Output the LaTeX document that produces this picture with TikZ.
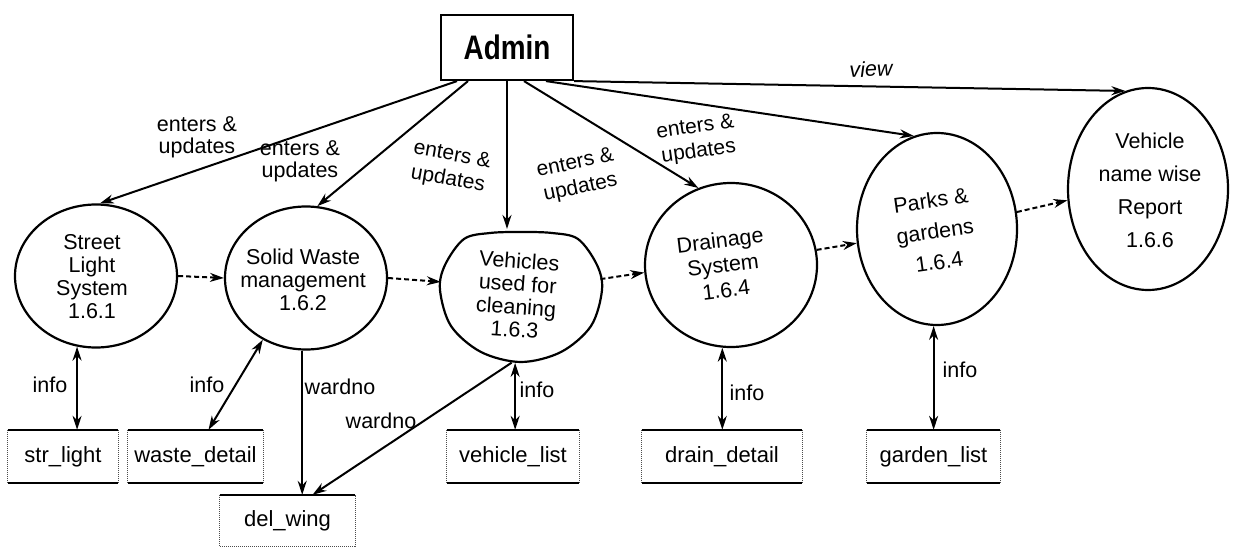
\documentclass[tikz,border=0pt]{standalone}
\usepackage{fontspec}
\setmainfont{Liberation Sans}
\usepackage{graphicx}
\usetikzlibrary{arrows.meta,shapes.geometric,calc}
\begin{document}
\begin{tikzpicture}[x=1pt,y=-1pt,
  proc/.style={ellipse, draw, line width=2.2pt, inner sep=0pt},
  ptext/.style={align=center, inner sep=0pt, font=\fontsize{21.5}{23}\selectfont},
  store/.style={rectangle, minimum height=53pt, inner sep=0pt, font=\fontsize{22}{24}\selectfont},
  lbl/.style={align=center, inner sep=0pt, font=\fontsize{21.5}{22}\selectfont},
  rlbl/.style={align=center, inner sep=0pt, font=\fontsize{21}{25}\selectfont},
  flow/.style={line width=2pt, -{Stealth[length=14pt,width=9pt]}},
  dflow/.style={line width=2pt, {Stealth[length=14pt,width=9pt]}-{Stealth[length=14pt,width=9pt]}},
  dashflow/.style={line width=2pt, dash pattern=on 5pt off 3pt, -{Stealth[length=14pt,width=9pt]}},
  storeline/.style={line width=2.5pt},
  sideline/.style={line width=1pt, densely dotted, black!70},
]
\useasboundingbox (0,0) rectangle (1233,548);

% Admin
\node[draw, line width=2.2pt, minimum width=132pt, minimum height=65pt, inner sep=0pt] (adm) at (507,47.5)
  {\fontsize{34}{36}\selectfont\bfseries\scalebox{0.82}[1]{Admin}};

% processes
\node[proc, minimum width=162pt, minimum height=143pt] (sl) at (96,276) {};
\node[ptext] (slt) at (92,277) {Street\\Light\\System\\1.6.1};
\node[proc, minimum width=162pt, minimum height=143pt] (sw) at (306,278) {};
\node[ptext] (swt) at (303,280) {Solid Waste\\management\\1.6.2};
\node[proc, draw=none, minimum width=162pt, minimum height=132pt] (veh) at (521,296) {};
\draw[line width=2.2pt] plot[smooth cycle, tension=0.55] coordinates {(464,239) (490,233) (521,232) (552,233) (578,239) (597,265) (602,290) (591,326) (561,352) (521,362) (481,352) (451,326) (440,290) (445,265)};
\node[ptext, rotate=-4] (veht) at (517,295) {Vehicles\\used for\\cleaning\\1.6.3};
\node[proc, minimum width=172pt, minimum height=164pt] (dr) at (731,265) {};
\node[ptext, rotate=7, font=\fontsize{21.5}{25}\selectfont] (drt) at (723,265) {Drainage\\System\\1.6.4};
\node[proc, minimum width=160pt, minimum height=192pt] (pk) at (937,229) {};
\node[ptext, rotate=8, font=\fontsize{21.5}{31}\selectfont] (pkt) at (935,231) {Parks \&\\gardens\\1.6.4};
\node[proc, minimum width=160pt, minimum height=202pt] (rp) at (1148,189) {};
\node[ptext, font=\fontsize{21.5}{33}\selectfont] (rpt) at (1150,190) {Vehicle\\name wise\\Report\\1.6.6};

% stores
\node[store, minimum width=110pt] (st1) at (63,456.5) {str\_light};
\node[store, minimum width=135pt] (st2) at (195.5,456.5) {waste\_detail};
\node[store, minimum width=135pt, minimum height=51pt] (dw) at (287.5,520.5) {del\_wing};
\node[store, minimum width=132pt] (st4) at (513,456.5) {vehicle\_list};
\node[store, minimum width=160pt] (st5) at (722,456.5) {drain\_detail};
\node[store, minimum width=133pt] (st6) at (933.5,456.5) {garden\_list};
\foreach \s in {st1,st2,st4,st5,st6} {
  \draw[storeline] (\s.north west) -- (\s.north east);
  \draw[storeline] (\s.south west) -- (\s.south east);
  \draw[sideline] (\s.north west) -- (\s.south west);
  \draw[sideline] (\s.north east) -- (\s.south east);
}
\draw[storeline] (dw.north west) -- (dw.north east);
\draw[sideline] (dw.north west) -- (dw.south west) -- (dw.south east) -- (dw.north east);

% admin flows
\draw[flow] ([xshift=-50pt]adm.south) -- (sl.87);
\draw[flow] ([xshift=-39pt]adm.south) -- (sw.81);
\draw[flow] (adm.south) -- (adm.south |- veh.north);
\draw[flow] ([xshift=17pt]adm.south) -- (dr.113);
\draw[flow] ([xshift=39pt]adm.south) -- (pk.104);
\draw[flow] (adm.south east) -- (rp.103);

% dashed flows
\draw[dashflow] (sl.east) -- (sw.west);
\draw[dashflow] (sw.east) -- (veh.170);
\draw[dashflow] (veh.12) -- (dr.185);
\draw[dashflow] (dr.10) -- (pk.190);
\draw[dashflow] (pk.12) -- (rp.188);

% store flows
\draw[dflow] (sl.255) -- (sl.255 |- st1.north);
\draw[dflow] (sw.235) -- ([xshift=13pt]st2.north);
\draw[flow] (sw.267) -- (sw.267 |- dw.north);
\draw[flow] (veh.262) -- ([xshift=25pt]dw.north);
\draw[dflow] (veh.265) -- (veh.265 |- st4.north);
\draw[dflow] (dr.264) -- (dr.264 |- st5.north);
\draw[dflow] (pk.268) -- (pk.268 |- st6.north);

% labels
\node[lbl] (l1) at (197,137) {enters \&\\updates};
\node[lbl] (l2) at (300,161) {enters \&\\updates};
\node[rlbl, rotate=-10] (l3) at (450,168) {enters \&\\updates};
\node[rlbl, rotate=12] (l4) at (578,176) {enters \&\\updates};
\node[rlbl, rotate=8] (l5) at (697,140) {enters \&\\updates};
\node[lbl, rotate=3, font=\fontsize{21.5}{22}\selectfont\itshape] (lv) at (871,69) {view};
\node[lbl] (i1) at (50,385) {info};
\node[lbl] (i2) at (207,385) {info};
\node[lbl] (w1) at (340,387) {wardno};
\node[lbl] (w2) at (381,421) {wardno};
\node[lbl] (i4) at (537,390) {info};
\node[lbl] (i5) at (747,393) {info};
\node[lbl] (i6) at (960,370) {info};
\end{tikzpicture}
\end{document}
